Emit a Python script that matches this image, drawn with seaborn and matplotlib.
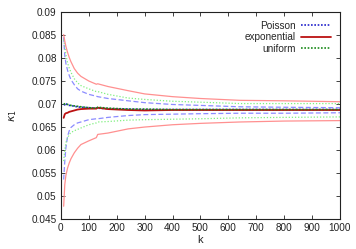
import numpy as np
import pandas as pd
import matplotlib
matplotlib.use("Agg")
import matplotlib.pyplot as plt
import seaborn as sns

# values
k = [10, 14, 18, 24, 30, 36, 48, 60, 72, 100, 127, 132, 169, 241, 300, 400, 500, 642, 800, 1000]

poisson_mean = [0.0700, 0.0698, 0.0701, 0.0698, 0.0697, 0.0697, 0.0695, 0.0694, 0.0693, 0.0692, 0.0691, 0.0691,
                0.0690, 0.0689, 0.0688, 0.0688, 0.0688, 0.0688, 0.0688, 0.0688]
poisson_hi = [0.0845, 0.0805, 0.0788, 0.0773, 0.0762, 0.0753, 0.0742, 0.0733, 0.0728, 0.0721, 0.0717, 0.0716,
              0.0712, 0.0707, 0.0703, 0.0699, 0.0697, 0.0694, 0.0693, 0.0692]
poisson_lo = [0.0536, 0.0576, 0.0605, 0.0630, 0.0642, 0.0649, 0.0655, 0.0659, 0.0661, 0.0666, 0.0668, 0.0668,
              0.0671, 0.0675, 0.0677, 0.0678, 0.0679, 0.0680, 0.0680, 0.0681]

expo_mean = [0.0670, 0.0678, 0.0680, 0.0681, 0.0683, 0.0684, 0.0686, 0.0688, 0.0689, 0.0690, 0.0690, 0.0692,
             0.0689, 0.0687, 0.0686, 0.0687, 0.0687, 0.0687, 0.0687, 0.0687]
expo_hi = [0.0851, 0.0837, 0.0825, 0.0812, 0.0801, 0.0792, 0.0777, 0.0767, 0.0760, 0.0750, 0.0743, 0.0744,
           0.0738, 0.0729, 0.0722, 0.0716, 0.0712, 0.0708, 0.0707, 0.0705]
expo_lo = [0.0478, 0.0525, 0.0545, 0.0561, 0.0572, 0.0581, 0.0594, 0.0604, 0.0612, 0.0620, 0.0627, 0.0634,
           0.0637, 0.0646, 0.0650, 0.0655, 0.0658, 0.0661, 0.0663, 0.0664]

unif_mean = [0.0701, 0.0700, 0.0700, 0.0699, 0.0698, 0.0697, 0.0696, 0.0695, 0.0694, 0.0692, 0.0691, 0.0693,
             0.0691, 0.0689, 0.0689, 0.0688, 0.0688, 0.0688, 0.0688, 0.0688]
unif_hi = [0.0840, 0.0825, 0.0807, 0.0789, 0.0778, 0.0769, 0.0755, 0.0746, 0.0740, 0.0733, 0.0727, 0.0727,
           0.0721, 0.0713, 0.0710, 0.0706, 0.0704, 0.0701, 0.0701, 0.0701]
unif_lo = [0.0576, 0.0600, 0.0616, 0.0626, 0.0634, 0.0638, 0.0642, 0.0645, 0.0648, 0.0655, 0.0659, 0.0661,
           0.0662, 0.0665, 0.0666, 0.0667, 0.0668, 0.0670, 0.0671, 0.0672]

sns.set_style("ticks")
plt.rcParams['font.family'] = ['Liberation Sans', 'DejaVu Sans']
plt.rcParams['mathtext.fontset'] = 'dejavusans'

fig = plt.figure(figsize=(3.56, 2.49), dpi=100)
ax = fig.add_axes([0.171, 0.120, 0.784, 0.832])

# bands (light colours)
bands = [
    (poisson_hi, "#8c8cff", (0, (4, 2))),
    (poisson_lo, "#8c8cff", (0, (4, 2))),
    (unif_hi, "#80f080", (0, (1, 1.5))),
    (unif_lo, "#80f080", (0, (1, 1.5))),
    (expo_hi, "#ff9090", "-"),
    (expo_lo, "#ff9090", "-"),
]
for vals, col, ls in bands:
    sns.lineplot(x=k, y=vals, ax=ax, color=col, linestyle=ls, linewidth=0.9)

# means
sns.lineplot(x=k, y=poisson_mean, ax=ax, color="#2222cc", linestyle=(0, (1, 1)), linewidth=1.2, label="Poisson")
sns.lineplot(x=k, y=expo_mean, ax=ax, color="#bb1111", linestyle="-", linewidth=1.3, label="exponential")
sns.lineplot(x=k, y=unif_mean, ax=ax, color="#1a8a1a", linestyle=(0, (1, 1)), linewidth=1.2, label="uniform")

ax.set_xlim(0, 1000)
ax.set_ylim(0.045, 0.09)
ax.set_xticks(np.arange(0, 1001, 100))
yt = np.arange(0.045, 0.0901, 0.005)
ax.set_yticks(yt)
ax.set_yticklabels([f"{v:g}" for v in np.round(yt, 3)])
ax.tick_params(direction="in", top=True, right=True, labelsize=7.2, length=3, width=0.6,
               colors="#222222", pad=3)
for s in ax.spines.values():
    s.set_linewidth(0.8)
    s.set_color("#222222")

ax.set_xlabel("k", fontsize=8, labelpad=1)
ax.set_ylabel(r"$\kappa_1$", fontsize=8, labelpad=9)

leg = ax.legend(loc="upper right", markerfirst=False, frameon=False, fontsize=7.2,
                handlelength=3.0, handletextpad=0.5, labelspacing=0.15,
                borderaxespad=0.5)

fig.savefig("out.png", dpi=100)
